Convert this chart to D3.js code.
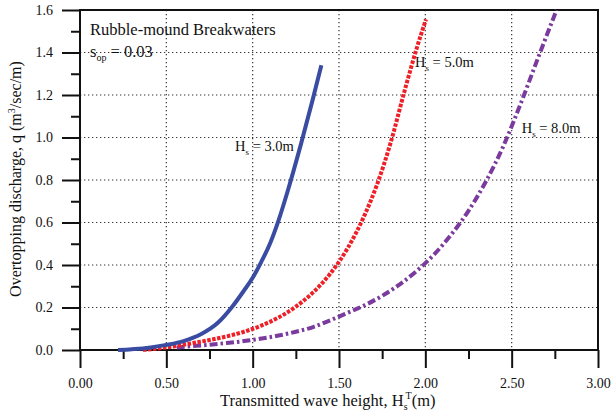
<!DOCTYPE html>
<html>
<head>
<meta charset="utf-8">
<script src="https://cdn.jsdelivr.net/npm/d3@7"></script>
<style>
  html, body { margin: 0; padding: 0; background: #fff; }
  svg { display: block; }
  text { font-family: "Liberation Serif", "Times New Roman", serif; fill: #111; }
</style>
</head>
<body>
<svg id="chart" width="612" height="414"></svg>
<script>
// Transmitted wave height (m) vs overtopping discharge (m3/sec/m)
const hs3H = [0.22, 0.30, 0.40, 0.50, 0.60, 0.70, 0.80, 0.878, 0.95, 1.00, 1.05, 1.10, 1.15, 1.20, 1.28, 1.345, 1.398];
const hs3Q = [0.000, 0.004, 0.011, 0.024, 0.042, 0.074, 0.129, 0.200, 0.280, 0.340, 0.415, 0.500, 0.610, 0.740, 0.970, 1.170, 1.340];

const hs5H = [0.365, 0.45, 0.55, 0.65, 0.75, 0.85, 0.95, 1.05, 1.15, 1.25, 1.35, 1.45, 1.55, 1.65, 1.72, 1.80, 1.88, 1.95, 2.004];
const hs5Q = [0.000, 0.007, 0.018, 0.032, 0.047, 0.064, 0.086, 0.115, 0.153, 0.204, 0.271, 0.360, 0.479, 0.638, 0.778, 0.978, 1.220, 1.420, 1.556];

const hs8H = [0.56, 0.65, 0.75, 0.85, 0.95, 1.05, 1.15, 1.25, 1.35, 1.45, 1.55, 1.65, 1.75, 1.85, 1.95, 2.05, 2.15, 2.25, 2.35, 2.45, 2.55, 2.66, 2.76];
const hs8Q = [0.012, 0.018, 0.025, 0.033, 0.042, 0.054, 0.068, 0.086, 0.108, 0.140, 0.175, 0.211, 0.255, 0.308, 0.372, 0.449, 0.543, 0.655, 0.792, 0.956, 1.155, 1.390, 1.600];

const xTicks = [0, 0.5, 1.0, 1.5, 2.0, 2.5, 3.0];
const xMinor = [0.25, 0.75, 1.25, 1.75, 2.25, 2.75];
const yTicks = [0, 0.2, 0.4, 0.6, 0.8, 1.0, 1.2, 1.4, 1.6];
const yMinor = [0.1, 0.3, 0.5, 0.7, 0.9, 1.1, 1.3, 1.5];

const serif = "'Liberation Serif', 'Times New Roman', serif";
const plot = { left: 80, right: 598, top: 10, bottom: 350 };
const svg = d3.select("#chart");

const x = d3.scaleLinear().domain([0, 3]).range([plot.left, plot.right]);
const y = d3.scaleLinear().domain([0, 1.6]).range([plot.bottom, plot.top]);

// dotted grid
const grid = svg.append("g").attr("stroke", "#333").attr("stroke-width", 1.2)
  .attr("stroke-dasharray", "1.3,2.7");
xTicks.filter(d => d > 0 && d < 3).forEach(d => {
  grid.append("line").attr("x1", x(d)).attr("x2", x(d)).attr("y1", plot.top).attr("y2", plot.bottom);
});
yTicks.filter(d => d > 0 && d < 1.6).forEach(d => {
  grid.append("line").attr("x1", plot.left).attr("x2", plot.right).attr("y1", y(d)).attr("y2", y(d));
});

// axes: major and minor ticks on the outside
const axisGroups = [
  svg.append("g").attr("transform", `translate(${plot.left},0)`)
    .call(d3.axisLeft(y).tickValues(yTicks).tickFormat(d3.format(".1f")).tickSize(18).tickPadding(9)),
  svg.append("g").attr("transform", `translate(${plot.left},0)`)
    .call(d3.axisLeft(y).tickValues(yMinor).tickFormat("").tickSize(9)),
  svg.append("g").attr("transform", `translate(0,${plot.bottom})`)
    .call(d3.axisBottom(x).tickValues(xTicks).tickFormat(d3.format(".2f")).tickSize(18).tickPadding(10)),
  svg.append("g").attr("transform", `translate(0,${plot.bottom})`)
    .call(d3.axisBottom(x).tickValues(xMinor).tickFormat("").tickSize(9))
];
axisGroups.forEach(g => g.attr("font-family", serif).attr("font-size", 14));
svg.selectAll(".domain").remove();
svg.selectAll(".tick line").attr("stroke", "#111").attr("stroke-width", 2);
svg.selectAll(".tick text").attr("fill", "#222")
  .style("font-size", "14px").style("font-family", serif);

// plot frame
svg.append("rect").attr("x", plot.left).attr("y", plot.top)
  .attr("width", plot.right - plot.left).attr("height", plot.bottom - plot.top)
  .attr("fill", "none").attr("stroke", "#111").attr("stroke-width", 2);

// curves
const line = d3.line().x(d => x(d[0])).y(d => y(d[1])).curve(d3.curveMonotoneX);
const series = [
  { H: hs8H, Q: hs8Q, color: "#7b3b9e", width: 4, dash: "8,3,2.5,3" },
  { H: hs5H, Q: hs5Q, color: "#ee1f26", width: 4, dash: "3.5,1.5" },
  { H: hs3H, Q: hs3Q, color: "#3a4ca2", width: 4, dash: null }
];
series.forEach(s => {
  svg.append("path").datum(s.H.map((h, i) => [h, s.Q[i]]))
    .attr("d", line).attr("fill", "none").attr("stroke", s.color)
    .attr("stroke-width", s.width).attr("stroke-dasharray", s.dash);
});

// annotations
svg.append("text").attr("x", 90).attr("y", 35).style("font-size", "16.5px").text("Rubble-mound Breakwaters");
const sop = svg.append("text").attr("x", 90).attr("y", 57).style("font-size", "16.5px");
sop.append("tspan").text("s");
sop.append("tspan").attr("dy", 4).style("font-size", "10px").text("op");
sop.append("tspan").attr("dy", -4).text(" = 0.03");

function hsLabel(h, q, txt) {
  const t = svg.append("text").attr("x", x(h)).attr("y", y(q)).style("font-size", "14.5px");
  t.append("tspan").text("H");
  t.append("tspan").attr("dy", 4).style("font-size", "9px").text("s");
  t.append("tspan").attr("dy", -4).text(" = " + txt);
}
hsLabel(0.898, 0.936, "3.0m");
hsLabel(1.94, 1.333, "5.0m");
hsLabel(2.558, 1.021, "8.0m");

// axis titles
const xt = svg.append("text").attr("x", 220).attr("y", 406).style("font-size", "16.5px");
xt.append("tspan").text("Transmitted wave height, H");
xt.append("tspan").attr("dy", 4).style("font-size", "10px").text("s");
xt.append("tspan").attr("dy", -11).attr("dx", -2).style("font-size", "10px").text("T");
xt.append("tspan").attr("dy", 7).text("(m)");

const yt = svg.append("text").attr("transform", "translate(21,179) rotate(-90)")
  .attr("text-anchor", "middle").style("font-size", "16px");
yt.append("tspan").text("Overtopping discharge, q (m");
yt.append("tspan").attr("dy", -6).style("font-size", "10px").text("3");
yt.append("tspan").attr("dy", 6).text("/sec/m)");
</script>
</body>
</html>
